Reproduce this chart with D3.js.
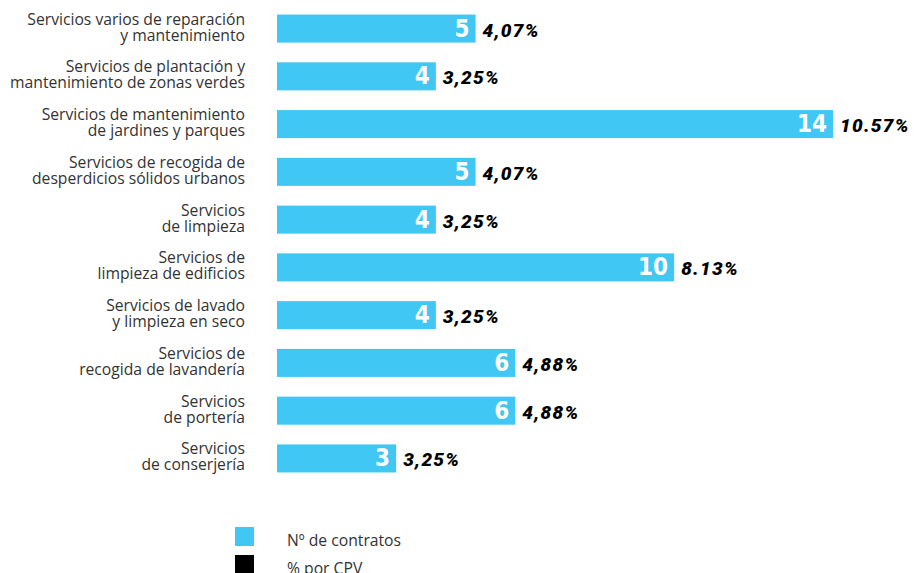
<!DOCTYPE html>
<html>
<head>
<meta charset="utf-8">
<script src="https://cdn.jsdelivr.net/npm/d3@7"></script>
<style>
  html, body { margin: 0; padding: 0; background: #fff; overflow: hidden; }
  .lbl { font-family: "Open Sans", Lato, sans-serif; font-size: 15.7px; fill: #333; }
  .val { font-family: "Liberation Sans Narrow", "DejaVu Sans Condensed", sans-serif; font-weight: bold; font-size: 24px; fill: #fff; }
  .pct { font-family: Roboto, sans-serif; font-weight: 900; font-style: italic; font-size: 19px; letter-spacing: 1.3px; fill: #000; }
</style>
</head>
<body>
<div id="chart"></div>
<script>
// category labels, split in two lines as in the picture
var categories = [
  ["Servicios varios de reparación", "y mantenimiento"],
  ["Servicios de plantación y", "mantenimiento de zonas verdes"],
  ["Servicios de mantenimiento", "de jardines y parques"],
  ["Servicios de recogida de", "desperdicios sólidos urbanos"],
  ["Servicios", "de limpieza"],
  ["Servicios de", "limpieza de edificios"],
  ["Servicios de lavado", "y limpieza en seco"],
  ["Servicios de", "recogida de lavandería"],
  ["Servicios", "de portería"],
  ["Servicios", "de conserjería"]
];
var contratos = [5, 4, 14, 5, 4, 10, 4, 6, 6, 3];
var porcentajes = ["4,07%", "3,25%", "10.57%", "4,07%", "3,25%", "8.13%", "3,25%", "4,88%", "4,88%", "3,25%"];
var legendLabels = ["Nº de contratos", "% por CPV"];
var legendColors = ["#41c7f4", "#000000"];

var width = 914, height = 573;
var svg = d3.select("#chart").append("svg")
  .attr("width", width).attr("height", height);

var idx = d3.range(categories.length);

var x = d3.scaleLinear().domain([0, 14]).range([277, 833]);
var y = d3.scaleBand().domain(idx).range([5, 482]).paddingInner(0.413).paddingOuter(0.2);

var rows = svg.selectAll("g.row").data(idx).enter().append("g")
  .attr("class", "row")
  .attr("transform", function(i) { return "translate(0," + y(i) + ")"; });

rows.append("rect")
  .attr("x", x(0))
  .attr("y", 0)
  .attr("width", function(i) { return x(contratos[i]) - x(0); })
  .attr("height", y.bandwidth())
  .attr("fill", legendColors[0]);

var lbl = rows.append("text")
  .attr("class", "lbl")
  .attr("text-anchor", "end");
lbl.append("tspan").attr("x", 245).attr("y", y.bandwidth() / 2 - 4)
  .text(function(i) { return categories[i][0]; });
lbl.append("tspan").attr("x", 245).attr("y", y.bandwidth() / 2 + 12)
  .text(function(i) { return categories[i][1]; });

rows.append("text")
  .attr("class", "val")
  .attr("text-anchor", "end")
  .attr("x", function(i) { return x(contratos[i]) - 6; })
  .attr("y", y.bandwidth() / 2 + 8)
  .text(function(i) { return contratos[i]; });

rows.append("text")
  .attr("class", "pct")
  .attr("x", function(i) { return x(contratos[i]) + 7; })
  .attr("y", y.bandwidth() / 2 + 8)
  .text(function(i) { return porcentajes[i]; });

// legend
var leg = svg.selectAll("g.leg").data(legendLabels).enter().append("g")
  .attr("class", "leg")
  .attr("transform", function(d, i) { return "translate(235," + (527 + i * 28) + ")"; });
leg.append("rect").attr("width", 19).attr("height", 19)
  .attr("fill", function(d, i) { return legendColors[i]; });
leg.append("text").attr("class", "lbl").attr("x", 52).attr("y", 19)
  .text(function(d) { return d; });
</script>
</body>
</html>
